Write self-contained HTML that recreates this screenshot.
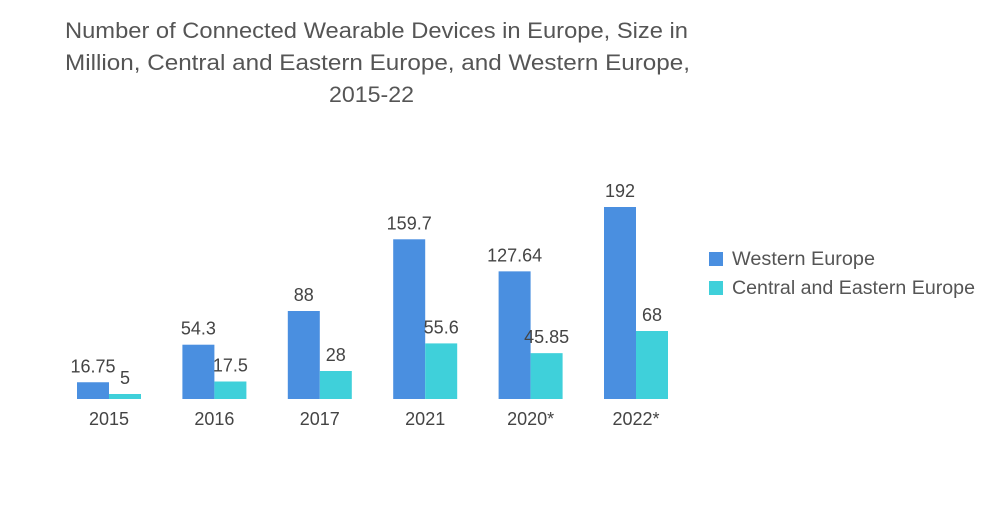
<!DOCTYPE html>
<html><head><meta charset="utf-8"><style>
body{margin:0;background:#fff;width:1000px;height:504px;overflow:hidden;font-family:"Liberation Sans",sans-serif}
</style></head><body>
<svg width="1000" height="504">
<g font-size="22" fill="#555">
<text x="65" y="38" textLength="623" lengthAdjust="spacingAndGlyphs">Number of Connected Wearable Devices in Europe, Size in</text>
<text x="65" y="70" textLength="625" lengthAdjust="spacingAndGlyphs">Million, Central and Eastern Europe, and Western Europe,</text>
<text x="329" y="102" textLength="85" lengthAdjust="spacingAndGlyphs">2015-22</text>
</g>
<g id="bars"></g>
<g font-size="19" fill="#555">
<rect x="709" y="252" width="14" height="14" fill="#4a8fe0"/>
<text x="732" y="265" textLength="143" lengthAdjust="spacingAndGlyphs">Western Europe</text>
<rect x="709" y="281" width="14" height="14" fill="#3fd0da"/>
<text x="732" y="294" textLength="243" lengthAdjust="spacingAndGlyphs">Central and Eastern Europe</text>
</g>
</svg>
<script>
const categories=["2015","2016","2017","2021","2020*","2022*"];
const western=[16.75,54.3,88,159.7,127.64,192];
const cee=[5,17.5,28,55.6,45.85,68];
const westernLabels=["16.75","54.3","88","159.7","127.64","192"];
const ceeLabels=["5","17.5","28","55.6","45.85","68"];
const NS="http://www.w3.org/2000/svg";
const g=document.getElementById('bars');
const base=399, scale=1.0, x0=109, step=105.4, bw=32;
const yS=v=>base-v*scale;
const xC=i=>x0+i*step;
function mk(tag,attrs){const e=document.createElementNS(NS,tag);for(const k in attrs)e.setAttribute(k,attrs[k]);g.appendChild(e);return e;}
categories.forEach((c,i)=>{
  const cx=xC(i);
  const b1=mk('rect',{x:cx-bw,y:yS(western[i]),width:bw,height:base-yS(western[i]),fill:'#4a8fe0'});
  
  
  const b2=mk('rect',{x:cx,y:yS(cee[i]),width:bw,height:base-yS(cee[i]),fill:'#3fd0da'});
  
  
  const t1=mk('text',{x:cx-bw/2,y:yS(western[i])-10,'text-anchor':'middle','font-size':18,fill:'#444'});
  t1.textContent=westernLabels[i];
  
  
  const t2=mk('text',{x:cx+bw/2,y:yS(cee[i])-10,'text-anchor':'middle','font-size':18,fill:'#444'});
  t2.textContent=ceeLabels[i];
  
  
  const xl=mk('text',{x:cx,y:425,'text-anchor':'middle','font-size':18,fill:'#444'});
  xl.textContent=c;
  
  
});
</script>
</body></html>
